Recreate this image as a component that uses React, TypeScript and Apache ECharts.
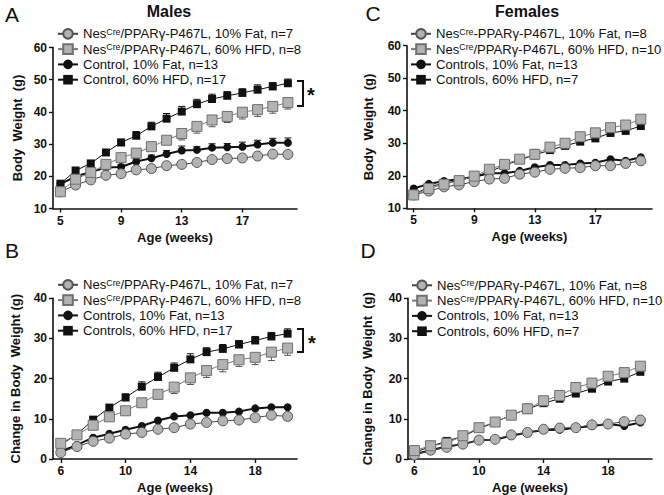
import React, { useEffect, useRef } from "react";
import * as echarts from "echarts";

const FONT = '"Liberation Sans", Arial, Helvetica, sans-serif';

// ---------- categories (weeks) ----------
const weeksBW = [5, 6, 7, 8, 9, 10, 11, 12, 13, 14, 15, 16, 17, 18, 19, 20];
const weeksChange = [6, 7, 8, 9, 10, 11, 12, 13, 14, 15, 16, 17, 18, 19, 20];

// ---------- tick labels ----------
const bwXTicks = [5, 9, 13, 17];
const changeXTicks = [6, 10, 14, 18];

// ---------- A: Males, body weight ----------
const maleNes10 = [15.2, 17.3, 18.9, 20.3, 20.8, 22.0, 22.4, 23.3, 23.7, 24.3, 25.2, 25.5, 25.7, 26.3, 26.9, 26.8];
const maleNesHFD = [15.2, 19.1, 21.2, 23.7, 25.8, 27.2, 29.2, 31.2, 33.3, 35.5, 37.5, 38.6, 39.9, 40.7, 41.7, 42.9];
const maleCtrl10 = [17.6, 20.0, 21.3, 22.7, 22.9, 24.6, 25.6, 26.9, 28.0, 28.2, 28.9, 29.0, 29.2, 29.9, 30.4, 30.4];
const maleCtrlHFD = [17.7, 21.8, 24.0, 27.4, 30.5, 32.6, 35.5, 37.9, 40.1, 42.4, 44.0, 45.0, 45.9, 46.9, 47.9, 48.9];
const maleNesHFDErr = [0.4, 0.5, 0.6, 0.8, 0.9, 1.0, 1.2, 1.3, 2.0, 2.1, 2.1, 1.9, 2.1, 2.1, 2.1, 2.0];
const maleCtrl10Err = [0.4, 0.5, 0.6, 0.7, 0.8, 0.9, 1.0, 1.1, 1.4, 1.0, 1.2, 1.2, 1.4, 1.3, 1.4, 1.5];
const maleCtrlHFDErr = [0.5, 0.6, 0.7, 0.8, 1.0, 1.3, 1.3, 1.6, 1.6, 1.5, 1.5, 1.3, 1.3, 1.5, 1.2, 1.3];

// ---------- B: Males, change in body weight ----------
const maleChgNes10 = [1.6, 3.1, 4.4, 5.2, 6.2, 6.6, 7.4, 7.8, 8.7, 9.1, 9.5, 9.7, 10.3, 10.9, 10.6];
const maleChgNesHFD = [3.9, 6.0, 8.4, 10.5, 12.0, 14.0, 16.1, 17.9, 20.2, 22.0, 23.5, 24.7, 25.3, 26.6, 27.6];
const maleChgCtrl10 = [1.9, 3.5, 5.3, 6.3, 7.3, 8.2, 9.6, 10.6, 10.9, 11.5, 11.5, 11.8, 12.6, 12.9, 12.9];
const maleChgCtrlHFD = [3.6, 6.1, 9.8, 12.8, 15.3, 18.0, 20.4, 22.7, 24.8, 26.6, 27.4, 28.5, 29.5, 30.5, 31.2];
const maleChgNesHFDErr = [0.3, 0.4, 0.5, 0.6, 0.7, 0.8, 1.15, 1.6, 1.65, 1.7, 1.8, 1.65, 1.8, 2.1, 1.8];
const maleChgCtrlHFDErr = [0.4, 0.5, 0.6, 0.7, 0.9, 1.2, 1.2, 1.2, 1.4, 1.1, 1.1, 1.0, 1.0, 1.0, 1.2];

// ---------- C: Females, body weight ----------
const femNes10 = [14.1, 15.3, 16.6, 17.2, 18.2, 19.0, 19.2, 20.5, 21.1, 22.0, 22.3, 22.5, 23.1, 23.1, 23.8, 24.6];
const femNesHFD = [14.1, 16.1, 17.4, 18.5, 19.9, 22.0, 23.5, 25.1, 26.6, 28.8, 30.0, 32.0, 33.2, 34.8, 35.6, 37.4];
const femCtrl10 = [16.1, 17.5, 18.4, 18.9, 19.7, 20.8, 20.8, 21.5, 22.6, 23.3, 23.3, 23.8, 24.0, 25.1, 24.6, 25.7];
const femCtrlHFD = [14.1, 16.7, 17.6, 18.6, 19.7, 21.2, 23.2, 24.9, 26.4, 27.9, 29.2, 30.5, 31.5, 33.2, 33.8, 35.3];
const femNesHFDErr = [0, 0, 0, 0, 0, 0, 0, 0, 1.5, 0, 0, 0, 0, 0, 0, 0];
const femCtrlHFDErr = [0, 0, 0, 0, 0, 0, 0, 0, 0, 0, 0, 0, 0, 1.0, 0, 0];

// ---------- D: Females, change in body weight ----------
const femChgNes10 = [1.0, 2.2, 2.9, 3.7, 4.7, 4.9, 6.0, 6.6, 7.4, 7.7, 7.8, 8.5, 8.7, 9.3, 9.7];
const femChgNesHFD = [2.1, 3.3, 3.9, 5.8, 7.8, 9.2, 10.9, 12.5, 14.5, 15.8, 17.8, 18.9, 20.6, 21.5, 23.1];
const femChgCtrl10 = [1.2, 2.2, 3.1, 3.7, 4.7, 4.8, 5.8, 6.6, 7.2, 7.3, 7.8, 8.2, 8.7, 8.2, 9.1];
const femChgCtrlHFD = [1.6, 3.1, 4.5, 5.6, 7.6, 9.1, 11.0, 12.4, 13.9, 15.0, 16.3, 17.5, 19.3, 20.0, 21.7];
const femChgNesHFDErr = [0, 0, 0, 0, 0, 0, 0, 1.2, 0, 0, 0, 0, 0, 0, 0];
const femChgCtrlHFDErr = [0, 0, 0, 0, 0, 0, 0, 0, 0, 0, 0, 0, 0.8, 0, 0];

// ---------- legend names ----------
const namesA = ["NesCre/PPARγ-P467L, 10% Fat, n=7", "NesCre/PPARγ-P467L, 60% HFD, n=8", "Control, 10% Fat, n=13", "Control, 60% HFD, n=17"];
const namesB = ["NesCre/PPARγ-P467L, 10% Fat, n=7", "NesCre/PPARγ-P467L, 60% HFD, n=8", "Controls, 10% Fat, n=13", "Controls, 60% HFD, n=17"];
const namesC = ["NesCre-PPARγ-P467L, 10% Fat, n=8", "NesCre/PPARγ-P467L, 60% HFD, n=10", "Controls, 10% Fat, n=13", "Controls, 60% HFD, n=7"];
const namesD = ["NesCre/PPARγ-P467L, 10% Fat, n=8", "NesCre/PPARγ-P467L, 60% HFD, n=10", "Controls, 10% Fat, n=13", "Controls, 60% HFD, n=7"];

const STYLES: any = {
  nes10: {
    symbol: "circle", symbolSize: 10,
    itemStyle: { color: "#b2b2b2", borderColor: "#555", borderWidth: 1 },
    lineStyle: { color: "#444", width: 1 },
  },
  nesHFD: {
    symbol: "rect", symbolSize: 10,
    itemStyle: { color: "#b2b2b2", borderColor: "#707070", borderWidth: 1 },
    lineStyle: { color: "#7a7a7a", width: 1 },
  },
  ctrl10: {
    symbol: "circle", symbolSize: 8,
    itemStyle: { color: "#111", borderColor: "#111", borderWidth: 0 },
    lineStyle: { color: "#111", width: 2 },
  },
  ctrlHFD: {
    symbol: "rect", symbolSize: 8,
    itemStyle: { color: "#111", borderColor: "#111", borderWidth: 0 },
    lineStyle: { color: "#111", width: 1 },
  },
};

type P = {
  grid: any; xMin: number; xMax: number; xTicks: number[];
  yMin: number; yMax: number; yName: string; yNameGap: number;
  weeks: number[]; names: string[];
  data: { nes10: number[]; nesHFD: number[]; ctrl10: number[]; ctrlHFD: number[] };
  errs: { key: string; err: number[]; dir: string }[];
  legend: { left: number; top: number };
};

const panels: P[] = [
  {
    grid: { left: 53, top: 47.5, width: 244, height: 161 },
    xMin: 4.51, xMax: 20.6, xTicks: bwXTicks,
    yMin: 10, yMax: 60, yName: "Body  Weight  (g)", yNameGap: 29,
    weeks: weeksBW, names: namesA,
    data: { nes10: maleNes10, nesHFD: maleNesHFD, ctrl10: maleCtrl10, ctrlHFD: maleCtrlHFD },
    errs: [
      { key: "nesHFD", err: maleNesHFDErr, dir: "down" },
      { key: "ctrl10", err: maleCtrl10Err, dir: "up" },
      { key: "ctrlHFD", err: maleCtrlHFDErr, dir: "up" },
    ],
    legend: { left: 57, top: 27.3 },
  },
  {
    grid: { left: 53, top: 298.3, width: 244, height: 161.7 },
    xMin: 5.52, xMax: 20.58, xTicks: changeXTicks,
    yMin: 0, yMax: 40, yName: "Change in Body  Weight (g)", yNameGap: 31,
    weeks: weeksChange, names: namesB,
    data: { nes10: maleChgNes10, nesHFD: maleChgNesHFD, ctrl10: maleChgCtrl10, ctrlHFD: maleChgCtrlHFD },
    errs: [
      { key: "nesHFD", err: maleChgNesHFDErr, dir: "down" },
      { key: "ctrlHFD", err: maleChgCtrlHFDErr, dir: "up" },
    ],
    legend: { left: 57, top: 278.3 },
  },
  {
    grid: { left: 407, top: 45.7, width: 245, height: 162.6 },
    xMin: 4.56, xMax: 20.74, xTicks: bwXTicks,
    yMin: 10, yMax: 60, yName: "Body  Weight  (g)", yNameGap: 32,
    weeks: weeksBW, names: namesC,
    data: { nes10: femNes10, nesHFD: femNesHFD, ctrl10: femCtrl10, ctrlHFD: femCtrlHFD },
    errs: [
      { key: "nesHFD", err: femNesHFDErr, dir: "both" },
      { key: "ctrlHFD", err: femCtrlHFDErr, dir: "down" },
    ],
    legend: { left: 410, top: 27.3 },
  },
  {
    grid: { left: 408, top: 298.3, width: 244, height: 161.7 },
    xMin: 5.6, xMax: 20.72, xTicks: changeXTicks,
    yMin: 0, yMax: 40, yName: "Change in Body  Weight  (g)", yNameGap: 34,
    weeks: weeksChange, names: namesD,
    data: { nes10: femChgNes10, nesHFD: femChgNesHFD, ctrl10: femChgCtrl10, ctrlHFD: femChgCtrlHFD },
    errs: [
      { key: "nesHFD", err: femChgNesHFDErr, dir: "both" },
      { key: "ctrlHFD", err: femChgCtrlHFDErr, dir: "down" },
    ],
    legend: { left: 411, top: 278.8 },
  },
];

const KEYS = ["nes10", "nesHFD", "ctrl10", "ctrlHFD"];
const DRAW_ORDER = ["ctrlHFD", "ctrl10", "nes10", "nesHFD"];

function errColor(key: string) {
  return key.startsWith("nes") ? "#555" : "#111";
}

function buildOption() {
  const grid: any[] = [];
  const xAxis: any[] = [];
  const yAxis: any[] = [];
  const legend: any[] = [];
  const series: any[] = [];

  panels.forEach((p, gi) => {
    grid.push({ ...p.grid, containLabel: false });
    xAxis.push({
      type: "value", gridIndex: gi, min: p.xMin, max: p.xMax,
      name: "Age (weeks)", nameLocation: "middle", nameGap: 22,
      nameTextStyle: { fontFamily: FONT, fontWeight: "bold", fontSize: 13, color: "#111" },
      axisLine: { show: true, onZero: false, lineStyle: { color: "#111", width: 1.6 } },
      axisTick: { show: true, inside: false, length: 4, customValues: p.xTicks, lineStyle: { color: "#111", width: 1.4 } },
      axisLabel: { show: true, customValues: p.xTicks, margin: 6, fontFamily: FONT, fontWeight: "bold", fontSize: 12, color: "#111" },
      splitLine: { show: false },
    });
    yAxis.push({
      type: "value", gridIndex: gi, min: p.yMin, max: p.yMax, interval: 10,
      name: p.yName, nameLocation: "middle", nameGap: p.yNameGap,
      nameTextStyle: { fontFamily: FONT, fontWeight: "bold", fontSize: 13, color: "#111" },
      axisLine: { show: true, onZero: false, lineStyle: { color: "#111", width: 1.6 } },
      axisTick: { show: true, inside: false, length: 4, lineStyle: { color: "#111", width: 1.4 } },
      axisLabel: { show: true, margin: 6, fontFamily: FONT, fontWeight: "bold", fontSize: 12, color: "#111" },
      splitLine: { show: false },
    });
    legend.push({
      orient: "vertical", left: p.legend.left, top: p.legend.top,
      itemWidth: 20, itemHeight: 12, itemGap: 2.3, padding: 0,
      selectedMode: false,
      data: p.names,
      formatter: (name: string) => name.replace("NesCre", "Nes{sup|Cre}"),
      textStyle: {
        fontFamily: FONT, fontSize: 13.1, color: "#111", lineHeight: 13,
        rich: { sup: { fontFamily: FONT, fontSize: 8.8, color: "#111", verticalAlign: "top", lineHeight: 8 } },
      },
    });

    // error bars (under the lines)
    p.errs.forEach((e) => {
      const vals = (p.data as any)[e.key] as number[];
      const data = p.weeks
        .map((w, i) => [w, vals[i], e.err[i]])
        .filter((d) => d[2] > 0);
      const color = errColor(e.key);
      const dir = e.dir;
      series.push({
        type: "custom", xAxisIndex: gi, yAxisIndex: gi, silent: true, z: 1,
        data, encode: { x: 0, y: 1 },
        renderItem: (params: any, api: any) => {
          const x = api.value(0), y = api.value(1), er = api.value(2);
          const p0 = api.coord([x, y]);
          const ends = dir === "both" ? [y + er, y - er] : dir === "up" ? [y + er] : [y - er];
          const children: any[] = [];
          ends.forEach((ye) => {
            const p1 = api.coord([x, ye]);
            children.push({ type: "line", shape: { x1: p0[0], y1: p0[1], x2: p1[0], y2: p1[1] }, style: { stroke: color, lineWidth: 1 } });
            children.push({ type: "line", shape: { x1: p1[0] - 3.5, y1: p1[1], x2: p1[0] + 3.5, y2: p1[1] }, style: { stroke: color, lineWidth: 1 } });
          });
          return { type: "group", children };
        },
      });
    });

    DRAW_ORDER.forEach((key) => {
      const idx = KEYS.indexOf(key);
      const st = STYLES[key];
      const vals = (p.data as any)[key] as number[];
      series.push({
        type: "line", name: p.names[idx], xAxisIndex: gi, yAxisIndex: gi, z: 2,
        symbol: st.symbol, symbolSize: st.symbolSize, showSymbol: true,
        itemStyle: st.itemStyle, lineStyle: st.lineStyle,
        emphasis: { disabled: true },
        data: p.weeks.map((w, i) => [w, vals[i]]),
      });
    });
  });

  const txt = (text: string, x: number, y: number, size: number, weight: string, align = "center") => ({
    type: "text", x, y, silent: true,
    style: { text, fontFamily: FONT, fontSize: size, fontWeight: weight, fill: "#111", align, verticalAlign: "middle" },
  });

  const graphic = [
    txt("Males", 169, 11, 16, "bold"),
    txt("Females", 527, 11, 16, "bold"),
    txt("A", 12, 14, 21, "normal"),
    txt("B", 12, 250, 21, "normal"),
    txt("C", 373, 13, 21, "normal"),
    txt("D", 368, 250, 21, "normal"),
    {
      type: "polyline", silent: true,
      shape: { points: [[297, 81], [303, 81], [303, 106], [297, 106]] },
      style: { stroke: "#111", lineWidth: 2, fill: null },
    },
    txt("*", 311, 95, 20, "bold"),
    {
      type: "polyline", silent: true,
      shape: { points: [[297, 329], [303, 329], [303, 352], [297, 352]] },
      style: { stroke: "#111", lineWidth: 2, fill: null },
    },
    txt("*", 312, 343, 20, "bold"),
  ];

  return {
    animation: false,
    backgroundColor: "#ffffff",
    grid, xAxis, yAxis, legend, series, graphic,
  };
}

export default function App() {
  const ref = useRef<HTMLDivElement>(null);
  useEffect(() => {
    if (!ref.current) return;
    const chart = echarts.init(ref.current, undefined, { renderer: "svg" });
    chart.setOption(buildOption() as any);
    return () => chart.dispose();
  }, []);
  return (
    <div
      ref={ref}
      style={{ position: "absolute", left: 0, top: 0, width: 664, height: 495, background: "#fff" }}
    />
  );
}
